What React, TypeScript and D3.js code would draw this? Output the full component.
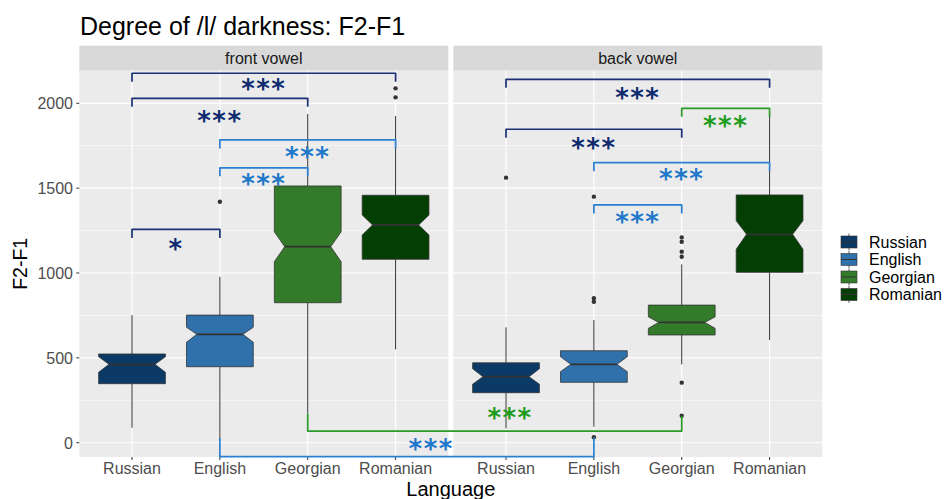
import React from "react";
import * as d3 from "d3";

const languages = ["Russian", "English", "Georgian", "Romanian"];
const vowelPanels = ["front vowel", "back vowel"];
const yTicks = [0, 500, 1000, 1500, 2000];
const yMinorTicks = [250, 750, 1250, 1750];

// box summaries (whiskers, quartiles, notch limits, median)
const frontBoxes = [
  { lang: "Russian", low: 88, q1: 348, notchLo: 415, med: 462, notchHi: 507, q3: 523, high: 752 },
  { lang: "English", low: 15, q1: 448, notchLo: 592, med: 639, notchHi: 680, q3: 752, high: 978 },
  { lang: "Georgian", low: 173, q1: 825, notchLo: 1067, med: 1155, notchHi: 1243, q3: 1513, high: 1937 },
  { lang: "Romanian", low: 550, q1: 1081, notchLo: 1224, med: 1283, notchHi: 1342, q3: 1458, high: 1925 },
];
const backBoxes = [
  { lang: "Russian", low: 85, q1: 295, notchLo: 345, med: 389, notchHi: 436, q3: 471, high: 680 },
  { lang: "English", low: 94, q1: 356, notchLo: 419, med: 462, notchHi: 507, q3: 542, high: 723 },
  { lang: "Georgian", low: 462, q1: 635, notchLo: 674, med: 709, notchHi: 742, q3: 811, high: 1051 },
  { lang: "Romanian", low: 605, q1: 1004, notchLo: 1140, med: 1228, notchHi: 1308, q3: 1460, high: 1943 },
];

const frontOutliers = [
  { lang: "English", value: 1420 },
  { lang: "Romanian", value: 2035 },
  { lang: "Romanian", value: 2088 },
];
const backOutliers = [
  { lang: "Russian", value: 1562 },
  { lang: "English", value: 1450 },
  { lang: "English", value: 851 },
  { lang: "English", value: 831 },
  { lang: "English", value: 32 },
  { lang: "Georgian", value: 1210 },
  { lang: "Georgian", value: 1184 },
  { lang: "Georgian", value: 1126 },
  { lang: "Georgian", value: 1096 },
  { lang: "Georgian", value: 354 },
  { lang: "Georgian", value: 159 },
];

// significance brackets inside each panel
const frontBrackets = [
  { from: "Russian", to: "Romanian", y: 2177, labelY: 2118, label: "***", tone: "navy" },
  { from: "Russian", to: "Georgian", y: 2029, labelY: 1926, label: "***", tone: "navy" },
  { from: "English", to: "Romanian", y: 1784, labelY: 1717, label: "***", tone: "blue" },
  { from: "English", to: "Georgian", y: 1620, labelY: 1556, label: "***", tone: "blue" },
  { from: "Russian", to: "English", y: 1257, labelY: 1172, label: "*", tone: "navy" },
];
const backBrackets = [
  { from: "Russian", to: "Romanian", y: 2141, labelY: 2062, label: "***", tone: "navy" },
  { from: "Georgian", to: "Romanian", y: 1970, labelY: 1899, label: "***", tone: "green" },
  { from: "Russian", to: "Georgian", y: 1847, labelY: 1772, label: "***", tone: "navy" },
  { from: "English", to: "Romanian", y: 1650, labelY: 1589, label: "***", tone: "blue" },
  { from: "English", to: "Georgian", y: 1401, labelY: 1335, label: "***", tone: "blue" },
];
// front vs back comparisons of the same language
const crossBrackets = [
  { lang: "Georgian", y: 69, tipFront: 173, tipBack: 159, labelY: 176, labelFrac: 0.541, label: "***", tone: "green" },
  { lang: "English", y: -82, tipFront: 26, tipBack: 32, labelY: -4, labelFrac: 0.565, label: "***", tone: "blue" },
];

const fills: Record<string, string> = {
  Russian: "#0b3a66",
  English: "#3070ab",
  Georgian: "#337a2a",
  Romanian: "#033f03",
};
const lineTones: Record<string, string> = { navy: "#1b3173", blue: "#2a80d2", green: "#2a9b2a" };
const starTones: Record<string, string> = { navy: "#0f2c70", blue: "#1f78ca", green: "#1e9c1e" };

const W = 945;
const H = 499;
const panelTop = 70.7;
const panelBottom = 457;
const stripTop = 45.7;
const panelBounds = [
  [79.3, 448.3],
  [453.3, 822.3],
];
const FONT = "'Liberation Sans', Arial, sans-serif";
const STAR_FONT = "'DejaVu Sans', sans-serif";
const starSize = 26;

const y = d3.scaleLinear().domain([-84, 2192]).range([panelBottom, panelTop]);
const xScales = panelBounds.map(([a, b]) =>
  d3.scalePoint<string>().domain(languages).range([a, b]).padding(0.6)
);
const step = xScales[0].step();
const boxW = step * 0.76;
const notchW = boxW * 0.69;
const tip = 50;

const boxPath = (cx: number, b: any) => {
  const l = cx - boxW / 2, r = cx + boxW / 2;
  const nl = cx - notchW / 2, nr = cx + notchW / 2;
  const pts: [number, number][] = [
    [l, y(b.q3)], [r, y(b.q3)], [r, y(b.notchHi)], [nr, y(b.med)], [r, y(b.notchLo)],
    [r, y(b.q1)], [l, y(b.q1)], [l, y(b.notchLo)], [nl, y(b.med)], [l, y(b.notchHi)],
  ];
  return d3.line()(pts) + "Z";
};

const Stars = ({ x, v, text, tone }: { x: number; v: number; text: string; tone: string }) => (
  <text
    x={x}
    y={y(v) + starSize * 0.56}
    textAnchor="middle"
    fontFamily={STAR_FONT}
    fontWeight="bold"
    fontSize={starSize}
    letterSpacing={1.5}
    fill={starTones[tone]}
  >
    {text}
  </text>
);

const Panel = ({ idx, boxes, outliers }: { idx: number; boxes: any[]; outliers: any[] }) => {
  const x = xScales[idx];
  const [x0, x1] = panelBounds[idx];
  return (
    <g>
      <rect x={x0} y={stripTop} width={x1 - x0} height={panelTop - stripTop} fill="#d9d9d9" />
      <text x={(x0 + x1) / 2} y={64} textAnchor="middle" fontFamily={FONT} fontSize={16} fill="#1a1a1a">
        {vowelPanels[idx]}
      </text>
      <rect x={x0} y={panelTop} width={x1 - x0} height={panelBottom - panelTop} fill="#ebebeb" />
      {yMinorTicks.map((t) => (
        <line key={"m" + t} x1={x0} x2={x1} y1={y(t)} y2={y(t)} stroke="#fff" strokeWidth={0.6} />
      ))}
      {yTicks.map((t) => (
        <line key={"g" + t} x1={x0} x2={x1} y1={y(t)} y2={y(t)} stroke="#fff" strokeWidth={1.2} />
      ))}
      {languages.map((l) => (
        <line key={"v" + l} x1={x(l)} x2={x(l)} y1={panelTop} y2={panelBottom} stroke="#fff" strokeWidth={1.2} />
      ))}
      {boxes.map((b) => {
        const cx = x(b.lang)!;
        return (
          <g key={b.lang}>
            <line x1={cx} x2={cx} y1={y(b.q3)} y2={y(b.high)} stroke="#333" strokeWidth={1} />
            <line x1={cx} x2={cx} y1={y(b.q1)} y2={y(b.low)} stroke="#333" strokeWidth={1} />
            <path d={boxPath(cx, b)} fill={fills[b.lang]} stroke="#333" strokeWidth={0.8} />
            <line x1={cx - notchW / 2} x2={cx + notchW / 2} y1={y(b.med)} y2={y(b.med)} stroke="#333" strokeWidth={1.8} />
          </g>
        );
      })}
      {outliers.map((o, i) => (
        <circle key={i} cx={x(o.lang)} cy={y(o.value)} r={2.2} fill="#333" />
      ))}
      {languages.map((l) => (
        <g key={"t" + l}>
          <line x1={x(l)} x2={x(l)} y1={panelBottom} y2={panelBottom + 3} stroke="#333" />
          <text x={x(l)} y={474} textAnchor="middle" fontFamily={FONT} fontSize={16} fill="#4d4d4d">
            {l}
          </text>
        </g>
      ))}
    </g>
  );
};

const Brackets = ({ idx, list }: { idx: number; list: any[] }) => {
  const x = xScales[idx];
  return (
    <g>
      {list.map((b, i) => {
        const a = x(b.from)!, c = x(b.to)!;
        const pts: [number, number][] = [
          [a, y(b.y - tip)], [a, y(b.y)], [c, y(b.y)], [c, y(b.y - tip)],
        ];
        return (
          <g key={i}>
            <path d={d3.line()(pts)!} fill="none" stroke={lineTones[b.tone]} strokeWidth={1.7} strokeLinejoin="round" />
            <Stars x={(a + c) / 2} v={b.labelY} text={b.label} tone={b.tone} />
          </g>
        );
      })}
    </g>
  );
};

export default function App() {
  const legendY = d3.scalePoint<string>().domain(languages).range([242, 294.5]);
  return (
    <svg width={W} height={H} style={{ position: "absolute", left: 0, top: 0, background: "#fff" }}>
      <text x={80} y={35} fontFamily={FONT} fontSize={25} fill="#000">
        Degree of /l/ darkness: F2-F1
      </text>
      <Panel idx={0} boxes={frontBoxes} outliers={frontOutliers} />
      <Panel idx={1} boxes={backBoxes} outliers={backOutliers} />
      {yTicks.map((t) => (
        <g key={t}>
          <line x1={panelBounds[0][0] - 3} x2={panelBounds[0][0]} y1={y(t)} y2={y(t)} stroke="#333" />
          <text x={73} y={y(t)} dy="0.36em" textAnchor="end" fontFamily={FONT} fontSize={16} fill="#4d4d4d">
            {t}
          </text>
        </g>
      ))}
      <Brackets idx={0} list={frontBrackets} />
      <Brackets idx={1} list={backBrackets} />
      {crossBrackets.map((b, i) => {
        const a = xScales[0](b.lang)!, c = xScales[1](b.lang)!;
        const pts: [number, number][] = [
          [a, y(b.tipFront)], [a, y(b.y)], [c, y(b.y)], [c, y(b.tipBack)],
        ];
        return (
          <g key={"c" + i}>
            <path d={d3.line()(pts)!} fill="none" stroke={lineTones[b.tone]} strokeWidth={1.7} strokeLinejoin="round" />
            <Stars x={a + (c - a) * b.labelFrac} v={b.labelY} text={b.label} tone={b.tone} />
          </g>
        );
      })}
      <text x={450.8} y={496} textAnchor="middle" fontFamily={FONT} fontSize={20} fill="#000">
        Language
      </text>
      <text
        transform={`translate(27,${(panelTop + panelBottom) / 2}) rotate(-90)`}
        textAnchor="middle"
        fontFamily={FONT}
        fontSize={19.5}
        fill="#000"
      >
        F2-F1
      </text>
      {languages.map((l) => {
        const cy = legendY(l)!;
        return (
          <g key={"lg" + l}>
            <line x1={849} x2={849} y1={cy - 8.5} y2={cy + 8.5} stroke="#333" strokeWidth={0.8} />
            <rect x={841} y={cy - 6} width={16} height={12} fill={fills[l]} stroke="#333" strokeWidth={0.6} />
            <line x1={841} x2={857} y1={cy} y2={cy} stroke="#333" strokeWidth={1} />
            <text x={869} y={cy} dy="0.36em" fontFamily={FONT} fontSize={16} fill="#000">
              {l}
            </text>
          </g>
        );
      })}
    </svg>
  );
}
